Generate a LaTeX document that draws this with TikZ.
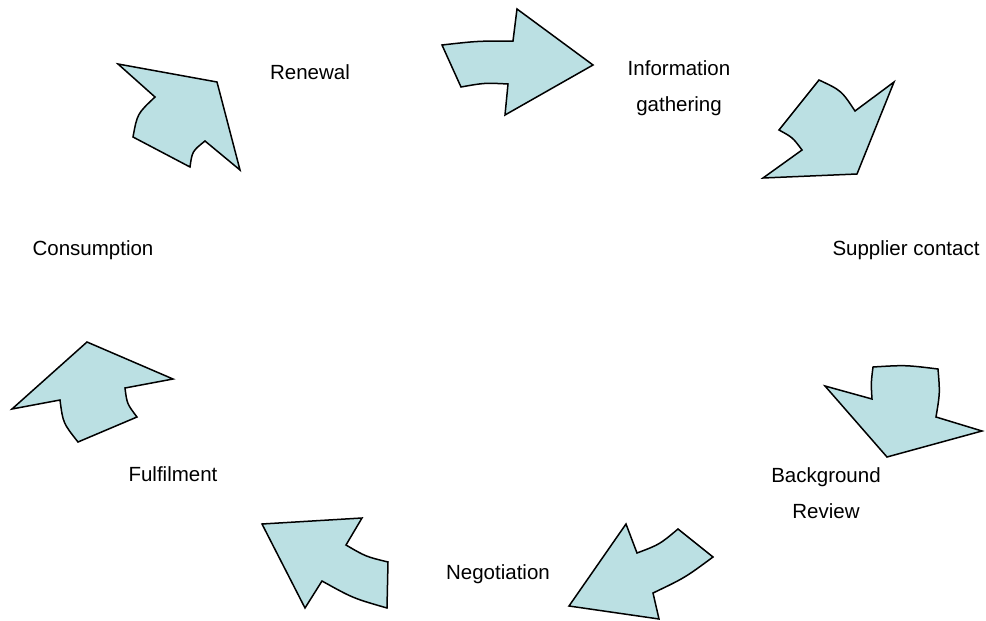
\documentclass[tikz,border=0pt]{standalone}
\usepackage{fontspec}
\setmainfont{Liberation Sans}
\definecolor{arrowfill}{RGB}{187,224,227}

\begin{document}
\begin{tikzpicture}[x=1pt,y=-1pt]
\tikzstyle{stage}=[font=\fontsize{20.5}{36}\selectfont,align=center,inner sep=0pt]
\tikzstyle{cyclearrow}=[draw=black,fill=arrowfill,line width=1.5pt,line join=miter]
\useasboundingbox (0,0) rectangle (986,621);
% stage names
\node [stage] (renewal) at (310,72) {Renewal};
\node [stage] (info) at (679,88) {Information\\gathering};
\node [stage] (supplier) at (906,250) {Supplier contact};
\node [stage] (review) at (826,493) {Background\\Review};
\node [stage] (negotiation) at (498,574) {Negotiation};
\node [stage] (fulfilment) at (173,474) {Fulfilment};
\node [stage] (consumption) at (93,250) {Consumption};
% block arrows between the stages
\path[cyclearrow] (442,45) .. controls (477.5,41) .. (513,41) -- (517,9) -- (593,65)
    -- (505,115) -- (508,84) .. controls (484.5,82.8) .. (461,87) -- cycle;
\path[cyclearrow] (819,80) .. controls (841.4,90.5) .. (855,111) -- (894,82) -- (857,174)
    -- (763,178) -- (802,150) .. controls (792.7,137.5) .. (779,130) -- cycle;
\path[cyclearrow] (873,367) .. controls (905.5,365) .. (938,369) .. controls (940,393) .. (936,417)
    -- (982,431) -- (887,457) -- (825,386) -- (872,399) .. controls (871,383) .. (873,367) -- cycle;
\path[cyclearrow] (626,524) -- (637,553) .. controls (659.5,544.5) .. (678,529) -- (713,557)
    .. controls (685,577.7) .. (653,593) -- (659,619) -- (569,606) -- cycle;
\path[cyclearrow] (262,524) -- (362,518) -- (346,545) .. controls (365.8,556.6) .. (388,562)
    -- (387,608) .. controls (353,598.2) .. (322,581) -- (305,608) -- cycle;
\path[cyclearrow] (87,342) -- (173,379) -- (125,388) .. controls (127,403.8) .. (137,417)
    -- (78,442) .. controls (63,423) .. (60,400) -- (12,409) -- cycle;
\path[cyclearrow] (118,64) -- (217,82) -- (240,170) -- (205,141) .. controls (192.2,151.3) .. (190,167)
    -- (133,137) .. controls (137.3,113.7) .. (155,97) -- cycle;
\end{tikzpicture}
\end{document}
